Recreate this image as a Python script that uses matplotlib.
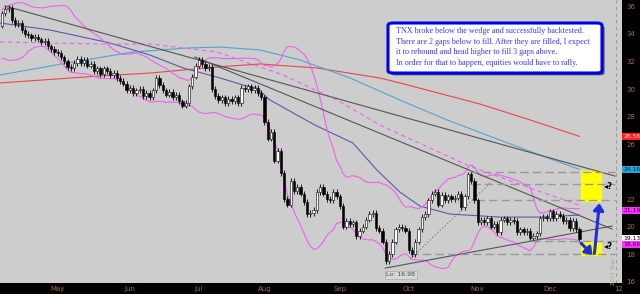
import numpy as np
import pandas as pd
import matplotlib
matplotlib.use('Agg')
import matplotlib.pyplot as plt
from matplotlib.patches import FancyBboxPatch, Rectangle, FancyArrowPatch
import matplotlib.transforms as mtransforms

# TNX daily closes (2011)
prior = [35.1, 34.9, 34.4, 33.8, 33.6, 33.3, 32.8, 32.3, 32.9, 33.0,
         33.4, 33.3, 33.7, 34.5, 34.6, 34.9, 34.7, 34.7, 34.6]  # late March, only feeds the bands
apr = [35.5, 35.8, 35.9, 35.0, 34.7, 34.8, 34.3, 34.0, 33.9, 33.7, 33.8, 33.6, 33.4, 33.5, 33.1, 32.9, 32.7]
may = [32.6, 32.3, 32.0, 31.6, 31.5, 31.9, 32.2, 31.9, 32.1, 31.7, 31.8, 31.3, 31.5, 31.1, 31.5, 31.3,
       31.0, 31.2, 30.8, 30.6, 30.4, 29.9]
jun = [30.1, 29.7, 29.9, 30.0, 29.5, 29.7, 29.4, 29.9, 30.8, 30.3, 29.9, 29.6, 29.8, 29.4, 29.6, 29.1,
       28.8, 29.0, 30.2, 30.9, 31.7]
jul = [32.1, 31.8, 31.5, 31.6, 30.0, 29.5, 29.2, 29.4, 29.0, 29.3, 29.1, 29.4, 29.0, 30.1, 30.0, 30.2,
       29.9, 30.1, 29.7, 29.4]
aug = [27.6, 26.4, 26.9, 24.8, 25.5, 23.9, 22.0, 21.6, 23.3, 22.6, 22.9, 22.4, 21.8, 20.9, 21.0, 21.2,
       22.5, 22.9, 22.4, 22.0, 21.9, 22.5, 22.2]
sep = [21.5, 20.0, 20.4, 20.2, 20.3, 19.3, 19.7, 20.0, 20.5, 20.9, 21.0, 19.9, 19.7, 18.9, 17.5, 18.0,
       18.9, 19.8, 20.0, 19.9, 19.7]
octo = [18.3, 18.0, 18.9, 19.8, 20.7, 20.9, 21.9, 22.4, 22.5, 21.6, 22.3, 21.9, 22.2, 22.0, 22.1, 22.4,
        21.4, 22.2, 23.8, 23.3, 21.9]
nov = [20.3, 20.5, 20.3, 20.6, 20.0, 20.2, 19.6, 20.5, 20.6, 20.3, 20.5, 20.4, 19.6, 19.8, 19.6, 19.7,
       19.2, 19.3, 19.5, 20.6, 20.7, 20.6]
dec = [21.1, 20.6, 20.9, 20.8, 20.4, 20.5, 19.9, 20.4, 19.8, 19.13]

months = [apr, may, jun, jul, aug, sep, octo, nov, dec]
month_names = ['May', 'Jun', 'Jul', 'Aug', 'Sep', 'Oct', 'Nov', 'Dec']
next_year_idx = 188          # first session of 2012
wick = 0.2

# moving averages (candle index, value)
ma_slow_x = [-0.6, 14.6, 32.9, 45.1, 55.2, 65.5, 73.5, 77.7, 81.7, 95.4, 107, 114.3, 121.3, 127.4, 136.6, 151.8, 164, 176]
ma_slow_y = [34.8, 34.29, 33.35, 32.47, 31.53, 30.87, 30.29, 30.07, 29.2, 27.38, 26.07, 24.11, 22.51, 21.49, 20.91, 20.69, 20.69, 20.84]
ma_cyan_x = [-0.6, 19.8, 39.9, 56.4, 66.5, 78.7, 90.9, 106.1, 121.3, 135.7, 151.8, 164, 176]
ma_cyan_y = [31.02, 31.89, 32.69, 32.98, 33.05, 32.84, 32.11, 30.8, 29.2, 27.75, 26.29, 25.2, 24.16]
ma_red_x = [-0.6, 29.9, 45.1, 65.5, 78.7, 96, 115.2, 121.3, 145.7, 161, 176]
ma_red_y = [30.44, 30.95, 31.16, 31.6, 31.82, 31.53, 30.8, 30.44, 28.91, 27.75, 26.56]
ma_dash_x = [-0.6, 29.9, 45.1, 65.5, 85.7, 102.1, 115.2, 141.8, 161, 176]
ma_dash_y = [33.42, 33.27, 33.27, 32.69, 31.02, 29.2, 27.38, 24.47, 22.8, 21.56]

# trend lines and gap levels
trend_lines = [((0.9, 36.04), (186.9, 23.67)),
               ((58.8, 32.33), (186.0, 19.82)),
               ((116.8, 16.98), (186.0, 20.04))]
dotted_line = ((124.4, 17.64), (148.8, 23.16))
gap_levels = [24.0, 23.1, 21.93, 18.95, 18.0]
gap_starts = [142.7, 143.3, 144.5, 161.6, 124.4]
gap_end = 186.9
boxes = [(176.5, 182.6, 21.85, 24.03), (176.5, 182.6, 17.96, 18.9)]
tags = [(26.56, '26.56', '#ff2020', '#ffe0e0'), (24.16, '24.16', '#2a9fd4', '#10304a'),
        (21.19, '21.19', '#ff30ff', '#3a003a'), (19.13, '19.13', '#ffffff', '#000000'),
        (18.69, '18.69', '#ff30ff', '#3a003a')]

note = ("TNX broke below the wedge and successfully backtested.\n"
        "There are 2 gaps below to fill. After they are filled, I expect\n"
        "it to rebound and head higher to fill 3 gaps above.\n"
        "In order for that to happen, equities would have to rally.")

closes = np.array(sum(months, []))
n = len(closes)
x = np.arange(n)
opens = np.concatenate([[prior[-1]], closes[:-1]])
highs = np.maximum(opens, closes) + wick
lows = np.minimum(opens, closes) - wick

full = pd.Series(prior + list(closes))
mid = full.rolling(20).mean()
sd = full.rolling(20).std(ddof=0)
bb_up = (mid + 2 * sd).values[len(prior):]
bb_lo = (mid - 2 * sd).values[len(prior):]

month_starts = np.cumsum([len(m) for m in months])[:-1]

fig = plt.figure(figsize=(6.4, 2.94), dpi=100, facecolor='black')
ax = fig.add_axes([0, 11 / 294, 622 / 640, 283 / 294])
ax.set_facecolor('#cdcdcd')
for s in ax.spines.values():
    s.set_visible(False)

for x0, x1, y0, y1 in boxes:
    ax.add_patch(Rectangle((x0, y0), x1 - x0, y1 - y0, color='#ffff00', zorder=1))

ax.plot(ma_red_x, ma_red_y, color='#e9474a', lw=0.8, zorder=2)
ax.plot(ma_cyan_x, ma_cyan_y, color='#4ea5d3', lw=0.8, zorder=2)
ax.plot(ma_slow_x, ma_slow_y, color='#5a5aae', lw=0.8, zorder=2)
ax.plot(ma_dash_x, ma_dash_y, color='#f060f0', lw=0.8, ls=(0, (4, 3)), zorder=2)
ax.plot(x, bb_up, color='#f060f0', lw=0.8, zorder=2)
ax.plot(x, bb_lo, color='#f060f0', lw=0.8, zorder=2)

for (p0, p1) in trend_lines:
    ax.plot([p0[0], p1[0]], [p0[1], p1[1]], color='#555555', lw=0.8, zorder=2)
ax.plot([dotted_line[0][0], dotted_line[1][0]], [dotted_line[0][1], dotted_line[1][1]],
        color='#777777', lw=0.7, ls=(0, (1.5, 2)), zorder=2)
for lev, st in zip(gap_levels, gap_starts):
    ax.plot([st, gap_end], [lev, lev], color='#999999', lw=1.0, ls=(0, (6, 3)), zorder=2)

ax.axvline(next_year_idx - 0.7, color='#9a9a9a', lw=0.8, ls=(0, (3, 3)), zorder=1)

# candles
face = np.where(closes >= opens, 'white', 'black')
ax.vlines(x, lows, highs, color='black', lw=0.6, zorder=3)
body = np.maximum(np.abs(closes - opens), 0.06)
ax.bar(x, body, bottom=np.minimum(opens, closes), width=0.7, color=face,
       edgecolor='black', lw=0.4, zorder=4)

# arrows
ax.add_patch(FancyArrowPatch((176.5, 18.8), (180.0, 17.95), arrowstyle='-|>,head_length=4,head_width=3',
                             color='#1f2de0', lw=2.2, mutation_scale=1, zorder=6, shrinkA=0, shrinkB=0))
ax.add_patch(FancyArrowPatch((180.6, 18.05), (182.1, 21.7), arrowstyle='-|>,head_length=4,head_width=3',
                             color='#1f2de0', lw=2.2, mutation_scale=1, zorder=6, shrinkA=0, shrinkB=0))

ax.text(185.0, 22.95, '\u25c2?', fontsize=6, fontweight='bold', color='black', ha='center', va='center', zorder=6)
ax.text(185.0, 18.55, '\u25c2?', fontsize=6, fontweight='bold', color='black', ha='center', va='center', zorder=6)
ax.text(186.4, 16.75, '2011 Year', rotation=90, fontsize=4, color='#b8a080', ha='center', va='center', zorder=6)
ax.text(121.6, 16.5, 'Lo: 16.98', fontsize=4.5, color='#444444', ha='center', va='center', zorder=6,
        bbox=dict(boxstyle='square,pad=0.25', fc='#d8d8d8', ec='#aaaaaa', lw=0.5))

ax.set_xlim(-0.6, 189.0)
ax.set_ylim(15.9, 36.47)
ax.set_xticks(list(month_starts) + [next_year_idx])
ax.set_xticklabels(month_names + ['12'])
ax.yaxis.tick_right()
yt = list(range(16, 37, 2))
ax.set_yticks(yt)
ax.set_yticklabels(['' if v == 24 else str(v) for v in yt])
ax.tick_params(axis='both', length=0, labelsize=5, colors='#a86e2e')
ax.tick_params(axis='x', pad=2)
ax.tick_params(axis='y', pad=3)

trans = mtransforms.blended_transform_factory(ax.transAxes, ax.transData)
for val, txt, bg, fg in tags:
    ax.text(1.002, val, txt, transform=trans, fontsize=4.3, color=fg, ha='left', va='center',
            clip_on=False, zorder=7, bbox=dict(boxstyle='square,pad=0.2', fc=bg, ec='none'))

# note box
bx0, by0, bx1, by1 = 388 / 640, 1 - 73 / 294, 602 / 640, 1 - 23 / 294
shadow = FancyBboxPatch((bx0 + 0.004, by0 - 0.008), bx1 - bx0, by1 - by0, boxstyle='round,pad=0,rounding_size=0.008',
                        transform=fig.transFigure, fc='#555555', ec='none', zorder=8)
box = FancyBboxPatch((bx0, by0), bx1 - bx0, by1 - by0, boxstyle='round,pad=0,rounding_size=0.008',
                     transform=fig.transFigure, fc='white', ec='#0000ee', lw=2.2, zorder=9)
fig.patches.extend([shadow, box])
fig.text(396 / 640, 1 - 27 / 294, note, fontfamily='Liberation Serif', fontsize=5.9, color='#3a3aff',
         va='top', ha='left', linespacing=1.45, zorder=10)

fig.savefig('out.png', dpi=100, facecolor='black')
